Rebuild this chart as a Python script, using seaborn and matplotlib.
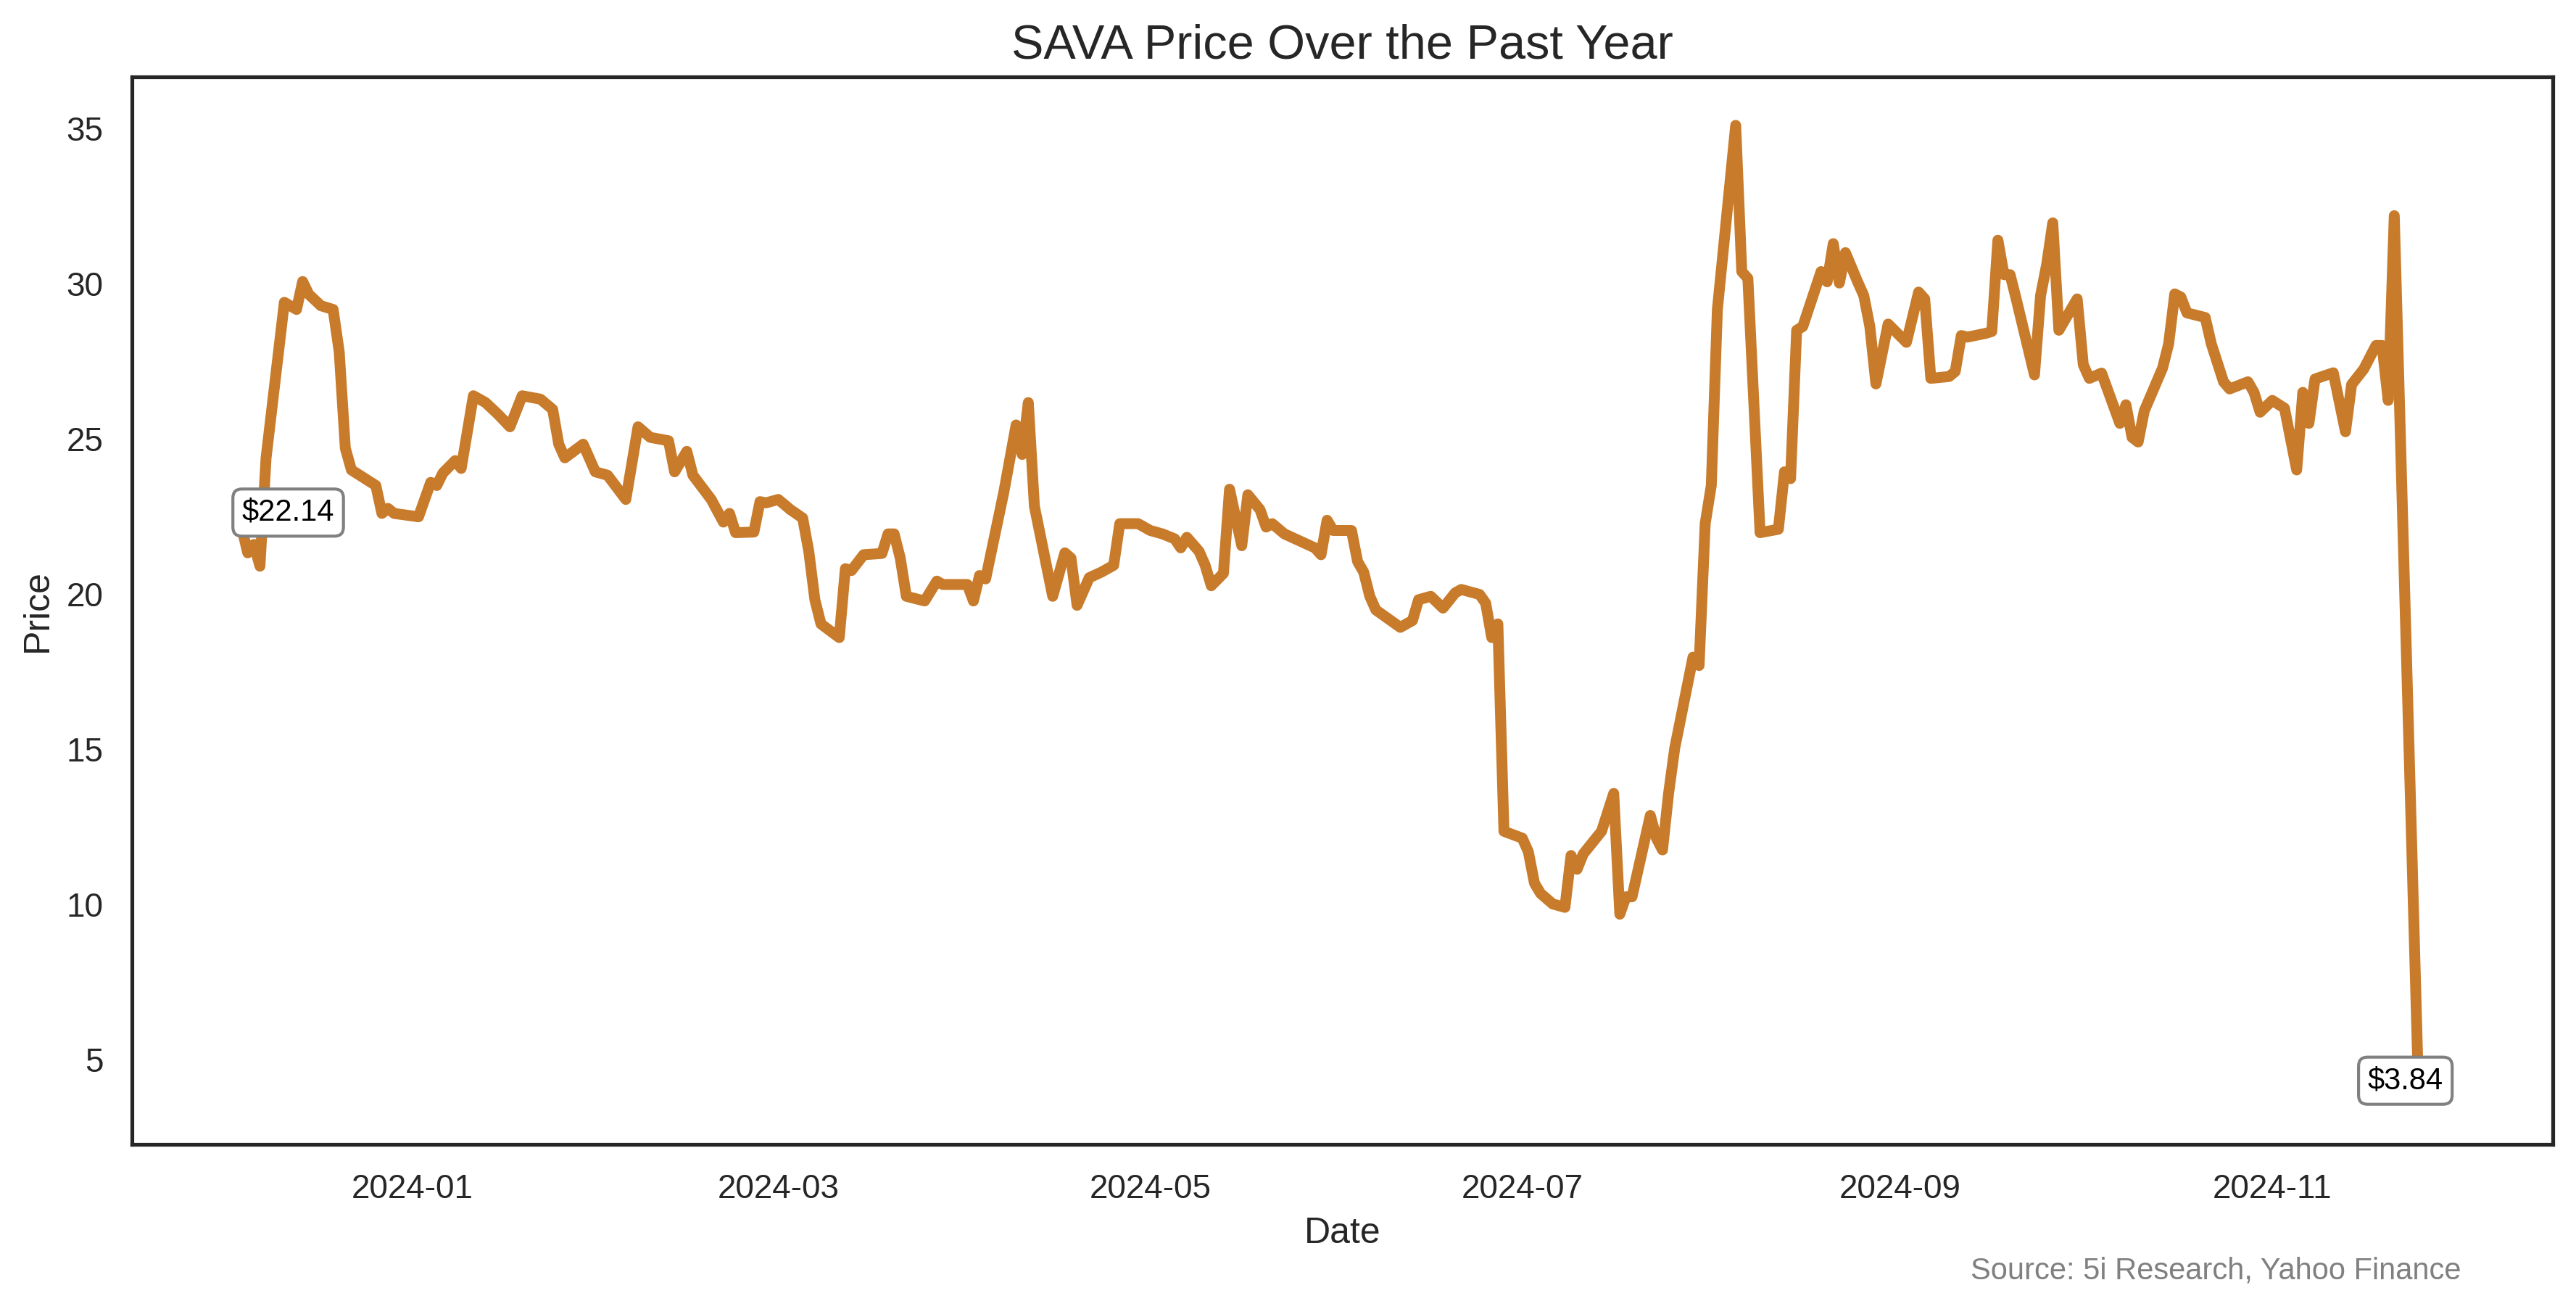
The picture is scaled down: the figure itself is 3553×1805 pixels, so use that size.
import pandas as pd
import matplotlib
matplotlib.use("Agg")
import matplotlib.pyplot as plt
import matplotlib.dates as mdates
import seaborn as sns

# closing prices
dates = [
    "2023-12-04", "2023-12-05", "2023-12-06", "2023-12-07", "2023-12-08",
    "2023-12-10", "2023-12-11", "2023-12-13", "2023-12-14", "2023-12-15",
    "2023-12-17", "2023-12-19", "2023-12-20", "2023-12-21", "2023-12-22",
    "2023-12-26", "2023-12-27", "2023-12-28", "2023-12-29", "2024-01-02",
    "2024-01-04", "2024-01-05", "2024-01-06", "2024-01-08", "2024-01-09",
    "2024-01-11", "2024-01-13", "2024-01-15", "2024-01-17", "2024-01-19",
    "2024-01-22", "2024-01-24", "2024-01-25", "2024-01-26", "2024-01-29",
    "2024-01-31", "2024-02-02", "2024-02-05", "2024-02-07", "2024-02-09",
    "2024-02-12", "2024-02-13", "2024-02-15", "2024-02-16", "2024-02-19",
    "2024-02-21", "2024-02-22", "2024-02-23", "2024-02-26", "2024-02-27",
    "2024-02-28", "2024-03-01", "2024-03-03", "2024-03-05", "2024-03-06",
    "2024-03-07", "2024-03-08", "2024-03-11", "2024-03-12", "2024-03-13",
    "2024-03-15", "2024-03-18", "2024-03-19", "2024-03-20", "2024-03-21",
    "2024-03-22", "2024-03-25", "2024-03-27", "2024-03-28", "2024-04-01",
    "2024-04-02", "2024-04-03", "2024-04-04", "2024-04-07", "2024-04-09",
    "2024-04-10", "2024-04-11", "2024-04-12", "2024-04-15", "2024-04-17",
    "2024-04-18", "2024-04-19", "2024-04-21", "2024-04-23", "2024-04-25",
    "2024-04-26", "2024-04-29", "2024-05-01", "2024-05-03", "2024-05-05",
    "2024-05-06", "2024-05-07", "2024-05-09", "2024-05-10", "2024-05-11",
    "2024-05-13", "2024-05-14", "2024-05-16", "2024-05-17", "2024-05-19",
    "2024-05-20", "2024-05-21", "2024-05-23", "2024-05-28", "2024-05-29",
    "2024-05-30", "2024-05-31", "2024-06-03", "2024-06-04", "2024-06-05",
    "2024-06-06", "2024-06-07", "2024-06-11", "2024-06-13", "2024-06-14",
    "2024-06-16", "2024-06-18", "2024-06-20", "2024-06-21", "2024-06-24",
    "2024-06-25", "2024-06-26", "2024-06-27", "2024-06-28", "2024-07-01",
    "2024-07-02", "2024-07-03", "2024-07-04", "2024-07-06", "2024-07-08",
    "2024-07-09", "2024-07-10", "2024-07-11", "2024-07-14", "2024-07-16",
    "2024-07-17", "2024-07-18", "2024-07-19", "2024-07-22", "2024-07-23",
    "2024-07-24", "2024-07-25", "2024-07-26", "2024-07-29", "2024-07-30",
    "2024-07-31", "2024-08-01", "2024-08-02", "2024-08-05", "2024-08-06",
    "2024-08-07", "2024-08-09", "2024-08-12", "2024-08-13", "2024-08-14",
    "2024-08-15", "2024-08-16", "2024-08-19", "2024-08-20", "2024-08-21",
    "2024-08-22", "2024-08-23", "2024-08-25", "2024-08-26", "2024-08-27",
    "2024-08-28", "2024-08-30", "2024-09-02", "2024-09-04", "2024-09-05",
    "2024-09-06", "2024-09-09", "2024-09-10", "2024-09-11", "2024-09-12",
    "2024-09-15", "2024-09-16", "2024-09-17", "2024-09-18", "2024-09-19",
    "2024-09-20", "2024-09-23", "2024-09-24", "2024-09-25", "2024-09-26",
    "2024-09-27", "2024-09-29", "2024-09-30", "2024-10-01", "2024-10-02",
    "2024-10-04", "2024-10-07", "2024-10-08", "2024-10-09", "2024-10-10",
    "2024-10-11", "2024-10-14", "2024-10-15", "2024-10-16", "2024-10-17",
    "2024-10-18", "2024-10-21", "2024-10-22", "2024-10-24", "2024-10-25",
    "2024-10-28", "2024-10-29", "2024-10-30", "2024-11-01", "2024-11-03",
    "2024-11-05", "2024-11-06", "2024-11-07", "2024-11-08", "2024-11-11",
    "2024-11-13", "2024-11-14", "2024-11-16", "2024-11-18", "2024-11-19",
    "2024-11-20", "2024-11-21", "2024-11-25",
]
prices = [
    22.14, 21.33, 21.60, 20.90, 24.38,
    27.73, 29.40, 29.17, 30.07, 29.66,
    29.29, 29.17, 27.80, 24.70, 24.00,
    23.50, 22.60, 22.76, 22.60, 22.49,
    23.60, 23.50, 23.90, 24.30, 24.05,
    26.39, 26.17, 25.80, 25.39, 26.39,
    26.28, 25.95, 24.83, 24.39, 24.83,
    23.94, 23.83, 23.05, 25.39, 25.05,
    24.94, 23.94, 24.60, 23.83, 23.05,
    22.32, 22.60, 21.98, 22.00, 22.98,
    22.94, 23.05, 22.72, 22.45, 21.38,
    19.82, 19.04, 18.60, 20.82, 20.76,
    21.27, 21.31, 21.94, 21.94, 21.16,
    19.93, 19.78, 20.42, 20.31, 20.31,
    19.78, 20.60, 20.49, 23.30, 25.45,
    24.50, 26.17, 22.83, 19.93, 21.33,
    21.16, 19.64, 20.53, 20.71, 20.93,
    22.27, 22.27, 22.05, 21.94, 21.78,
    21.49, 21.83, 21.38, 20.93, 20.27,
    20.67, 23.38, 21.56, 23.20, 22.72,
    22.16, 22.27, 21.94, 21.49, 21.27,
    22.38, 22.05, 22.05, 21.05, 20.71,
    19.93, 19.49, 18.93, 19.15, 19.82,
    19.93, 19.55, 20.04, 20.15, 19.99,
    19.71, 18.60, 19.04, 12.36, 12.14,
    11.70, 10.69, 10.36, 10.02, 9.91,
    11.58, 11.14, 11.63, 12.36, 13.58,
    9.69, 10.25, 10.25, 12.87, 12.14,
    11.76, 13.58, 15.03, 17.97, 17.70,
    22.27, 23.50, 29.17, 35.10, 30.39,
    30.17, 21.98, 22.09, 23.94, 23.72,
    28.50, 28.62, 30.39, 30.06, 31.29,
    30.02, 31.00, 30.06, 29.62, 28.62,
    26.77, 28.70, 28.11, 29.73, 29.51,
    26.95, 27.01, 27.17, 28.33, 28.28,
    28.40, 28.46, 31.40, 30.29, 30.29,
    29.51, 27.06, 29.62, 30.62, 31.96,
    28.50, 29.17, 29.51, 27.39, 26.95,
    27.12, 25.50, 26.10, 25.05, 24.90,
    25.90, 27.28, 28.06, 29.67, 29.57,
    29.06, 28.91, 28.06, 26.84, 26.61,
    26.84, 26.50, 25.86, 26.24, 25.99,
    24.00, 26.50, 25.50, 26.93, 27.13,
    25.23, 26.75, 27.25, 28.01, 28.01,
    26.24, 32.19, 3.84,
]

df = pd.DataFrame({"Date": pd.to_datetime(dates), "Price": prices})

sns.set_theme(style="white")
plt.rcParams["font.family"] = ["Liberation Sans", "DejaVu Sans"]

fig = plt.figure(figsize=(3553 / 300, 1805 / 300), dpi=300)
ax = fig.add_axes([0.0512, 0.1258, 0.9398, 0.8155])

sns.lineplot(data=df, x="Date", y="Price", color="#C77B2B", linewidth=3.6, ax=ax)

# label the first and last closing price
box = dict(boxstyle="round,pad=0.3", fc="white", ec="gray", lw=1)
first = df.iloc[0]
last = df.iloc[-1]
ax.annotate(f"${first['Price']:.2f}", (first["Date"], first["Price"]),
            xytext=(15.4, 5), textcoords="offset points",
            ha="center", va="center", fontsize=10, color="black", bbox=box)
ax.annotate(f"${last['Price']:.2f}", (last["Date"], last["Price"]),
            xytext=(-4.4, 5), textcoords="offset points",
            ha="center", va="center", fontsize=10, color="black", bbox=box)

ax.set_xlim(pd.Timestamp("2023-11-16"), pd.Timestamp("2024-12-17"))
ax.xaxis.set_major_locator(mdates.MonthLocator(bymonth=[1, 3, 5, 7, 9, 11]))
ax.xaxis.set_major_formatter(mdates.DateFormatter("%Y-%m"))

ax.set_title("SAVA Price Over the Past Year", fontsize=16)
ax.set_xlabel("Date")
ax.set_ylabel("Price")

fig.text(0.9555, 0.029, "Source: 5i Research, Yahoo Finance",
         ha="right", va="center", fontsize=10, color="gray")

fig.savefig("out.png", dpi=300)
